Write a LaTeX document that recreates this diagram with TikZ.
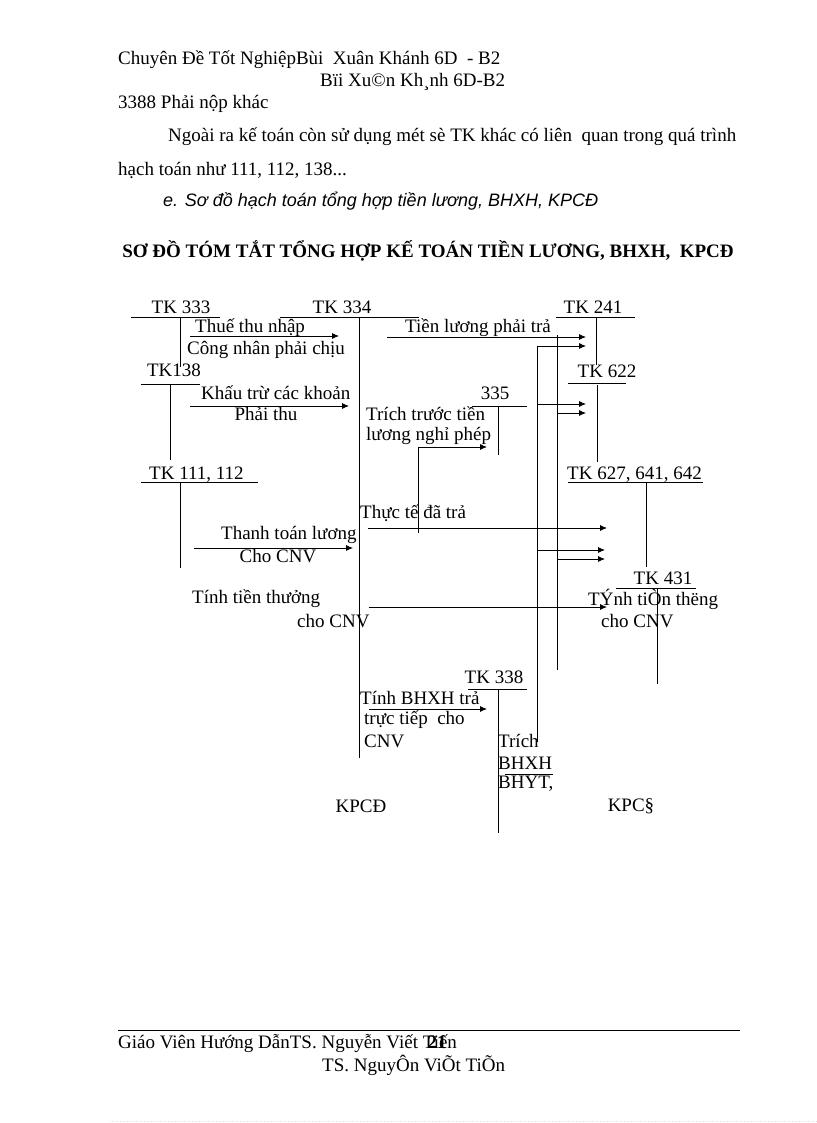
\documentclass[tikz,border=0pt]{standalone}
\usepackage{fontspec}
\setmainfont{Liberation Serif}
\newfontfamily\sansit{Liberation Sans}[ItalicFont={* Italic}]
\usetikzlibrary{arrows.meta}
\begin{document}
\begin{tikzpicture}[x=1pt,y=-1pt,
  every node/.style={inner sep=0pt,font=\fontsize{19}{21}\selectfont},
  L/.style={anchor=west},
  ln/.style={line width=0.8pt},
  ar/.style={line width=0.8pt,-{Latex[length=7pt,width=6pt]}}]
\useasboundingbox (0,0) rectangle (816,1123);
% header
\node[L] (h1) at (118,60) {Chuyên Đề Tốt NghiệpBùi\ \ Xuân Khánh 6D\ \ - B2};
\node[L] (h2) at (320,82) {Bïi Xu©n Kh¸nh 6D-B2};
\node[L] (h3) at (118,104) {3388 Phải nộp khác};
\node[L] (p1) at (168,137) {Ngoài ra kế toán còn sử dụng mét sè TK khác có liên\ \ quan trong quá trình};
\node[L] (p2) at (118,170) {hạch toán như 111, 112, 138...};
\node[L,font=\fontsize{18}{20}\sansit\itshape] (p3) at (163,201) {e. Sơ đồ hạch toán tổng hợp tiền lương, BHXH, KPCĐ};
\node[font=\fontsize{19}{21}\selectfont\bfseries] (title) at (428,251) {SƠ ĐỒ TÓM TẮT TỔNG HỢP KẾ TOÁN TIỀN LƯƠNG, BHXH,\ \ KPCĐ};
% T-accounts
\node (t333) at (181,307) {TK 333};
\draw[ln] (131,317) -- (220,317) (180,317) -- (180,367);
\node (t334) at (342,307) {TK 334};
\draw[ln] (280,317) -- (419,317) (359,317) -- (359,758);
\node (t241) at (593,307) {TK 241};
\draw[ln] (556,317) -- (635,317) (596,317) -- (596,365);
\node (t138) at (174,370) {TK138};
\draw[ln] (141,384) -- (200,384) (170,384) -- (170,460);
\node (t622) at (607,371) {TK 622};
\draw[ln] (568,383) -- (626,383) (597,385) -- (597,462);
\node (t335) at (495,393) {335};
\draw[ln] (472,406) -- (527,406) (498,406) -- (498,455);
\node[L] (t111) at (149,475) {TK 111, 112};
\draw[ln] (141,482) -- (258,482) (180,482) -- (180,568);
\node[L] (t627) at (567,475) {TK 627, 641, 642};
\draw[ln] (568,482) -- (703,482) (646,482) -- (646,567);
\node (t431) at (663,578) {TK 431};
\draw[ln] (616,588) -- (696,588) (657,588) -- (657,684);
\node (t338) at (494,677) {TK 338};
\draw[ln] (468,689) -- (527,689) (498,689) -- (498,833);
% long verticals
\draw[ln] (537,346) -- (537,742);
\draw[ln] (557,335) -- (557,670);
% arrows and labels
\draw[ar] (190,336) -- (339,336);
\node[L] at (195,328) {Thuế thu nhập};
\node[L] at (187,350) {Công nhân phải chịu};
\draw[ar] (387,337) -- (586,337);
\node at (478,328) {Tiền lương phải trả};
\draw[ar] (537,346) -- (586,346);
\draw[ar] (190,406) -- (349,406);
\node[L] at (201,393) {Khấu trừ các khoản};
\node at (266,414) {Phải thu};
\draw[ar] (537,404) -- (586,404);
\draw[ar] (557,413) -- (586,413);
\node[L] at (366,414) {Trích trước tiền};
\node[L] at (366,436) {lương nghỉ phép};
\draw[ln] (418,533) -- (418,447);
\draw[ar] (418,447) -- (487,447);
\node[L] at (360,513) {Thực tế đã trả};
\draw[ar] (368,528) -- (607,528);
\node[L] at (221,535) {Thanh toán lương};
\node at (278,556) {Cho CNV};
\draw[ar] (194,548) -- (353,548);
\draw[ar] (537,550) -- (605,550);
\draw[ar] (557,559) -- (605,559);
\node[L] at (192,599) {Tính tiền thưởng};
\node[L] at (297,621) {cho CNV};
\draw[ar] (369,607) -- (607,607);
\node[L] at (588,599) {TÝnh tiÒn thëng};
\node[L] at (601,621) {cho CNV};
\node[L] at (360,698) {Tính BHXH trả};
\draw[ar] (369,709) -- (487,709);
\node[L] at (364,720) {trực tiếp\ \ cho};
\node[L] at (364,741) {CNV};
\node[L] at (498,741) {Trích};
\node[L] at (498,763) {BHXH};
\draw[ln] (505,774) -- (553,774);
\node[L] at (498,784) {BHYT,};
\node at (361,806) {KPCĐ};
\node at (631,806) {KPC§};
% footer
\draw[line width=0.7pt] (118,1030) -- (740,1030);
\node[L] (f1) at (118,1043) {Giáo Viên Hướng DẫnTS. Nguyễn Viết Tiến};
\node[font=\fontsize{19}{21}\selectfont\bfseries] at (437,1042) {21};
\node[L] (f2) at (322,1065) {TS. NguyÔn ViÕt TiÕn};
\draw[green!30,dotted] (110,1121) -- (816,1121);
\end{tikzpicture}
\end{document}
